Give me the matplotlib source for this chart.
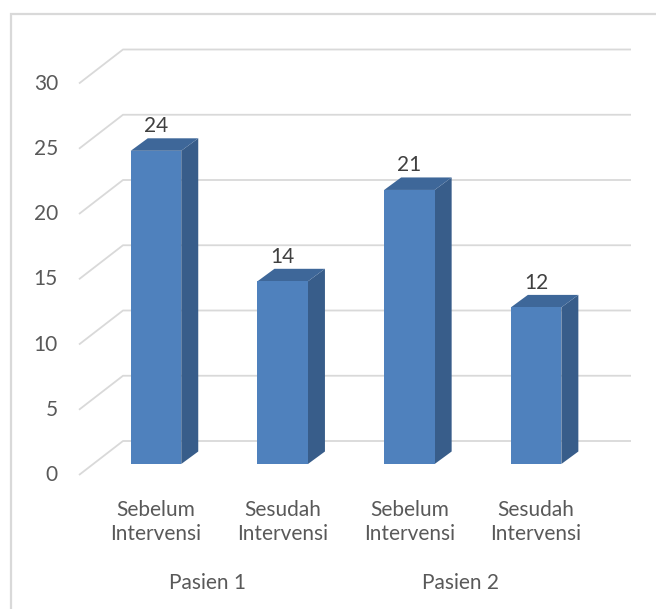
import matplotlib.pyplot as plt
from matplotlib.patches import Polygon, Rectangle

# data
categories = ["Sebelum\nIntervensi", "Sesudah\nIntervensi", "Sebelum\nIntervensi", "Sesudah\nIntervensi"]
values = [24, 14, 21, 12]
groups = ["Pasien 1", "Pasien 2"]
yticks = [0, 5, 10, 15, 20, 25, 30]

plt.rcParams['font.family'] = ['Lato', 'DejaVu Sans']

W, H = 656, 609
XS = 126.7   # px per category
U = 13.05    # px per value unit
X0, Y0 = 156, 464  # pixel of first bar center / zero line

fig = plt.figure(figsize=(W / 100, H / 100), dpi=100)
ax = fig.add_axes([0, 0, 1, 1])
ax.set_xlim(-X0 / XS, (W - X0) / XS)
ax.set_ylim(-(H - Y0) / U, Y0 / U)
ax.axis("off")

# outer chart border (runs off the right and bottom of the image)
fig.patches.append(Rectangle((11 / W, -0.1), 1.2, 1 - 14 / H + 0.1,
                             transform=fig.transFigure, fill=False,
                             edgecolor="#D9D9D9", lw=1.6))

# perspective gridlines
xf, yf = (79 - X0) / XS, (Y0 - 475) / U
xb, yb = (123 - X0) / XS, (Y0 - 441) / U
xr = (631 - X0) / XS
text_col = "#595959"
fs = 15
for v in yticks:
    ax.plot([xf, xb, xr], [v + yf, v + yb, v + yb], color="#D9D9D9", lw=1.3,
            solid_capstyle="butt", zorder=1)
    ax.text((58 - X0) / XS, v + yf, str(v), ha="right", va="center",
            fontsize=fs, color=text_col)

# 3D bars
w = 50.5 / XS
ddx, ddy = 17 / XS, 12.5 / U
front = "#4F81BD"
side = "#385D8A"
top = "#3E6799"
for i, v in enumerate(values):
    l, r = i - w / 2, i + w / 2
    ax.add_patch(Polygon([(r, 0), (r + ddx, ddy), (r + ddx, v + ddy), (r, v)],
                         closed=True, facecolor=side, edgecolor="none", zorder=3))
    ax.add_patch(Polygon([(l, v), (r, v), (r + ddx, v + ddy), (l + ddx, v + ddy)],
                         closed=True, facecolor=top, edgecolor="none", zorder=3))
    ax.bar(i, v, width=w, color=front, edgecolor="none", zorder=4)
    ax.text(i, v + 24.5 / U, str(v), ha="center", va="center",
            fontsize=fs, color="#404040")
    ax.text(i, (Y0 - 522) / U, categories[i], ha="center", va="center",
            fontsize=fs, color=text_col, linespacing=1.25)

for g, name in enumerate(groups):
    mid = 2 * g + 0.5 - 0.095
    ax.text(mid, (Y0 - 583) / U, name, ha="center", va="center",
            fontsize=fs, color=text_col)

fig.savefig("out.png", dpi=100)
